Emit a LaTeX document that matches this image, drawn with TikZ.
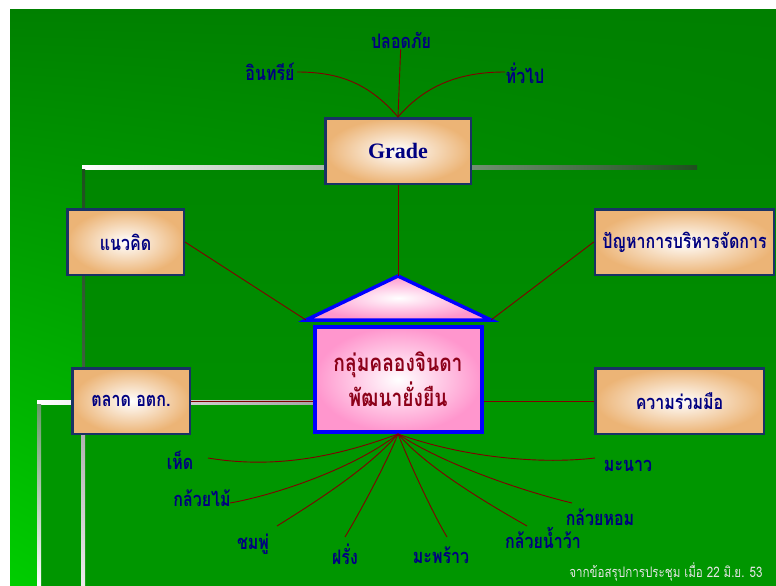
\documentclass[tikz,border=0pt]{standalone}
\usepackage{fontspec}
\setmainfont{Liberation Serif}
\newfontfamily\thai[Script=Thai, FakeStretch=0.8]{Loma}
\usepackage{xcolor}
\usetikzlibrary{shadings}
\definecolor{leafblue}{RGB}{0,0,128}
\definecolor{rimnavy}{RGB}{25,50,100}
\definecolor{boxtan}{RGB}{236,180,118}
\definecolor{hubpink}{RGB}{255,150,205}
\definecolor{linkred}{RGB}{128,0,0}
\definecolor{hubred}{RGB}{140,0,25}
\definecolor{topgreen}{RGB}{0,128,0}
\definecolor{litegreen}{RGB}{0,205,0}
\definecolor{midgreen}{RGB}{0,145,0}
\definecolor{panelgreen}{RGB}{0,134,0}
\definecolor{lowgreen}{RGB}{0,150,0}
\definecolor{rimdark}{RGB}{30,80,30}
\definecolor{notegray}{RGB}{230,230,230}
\tikzset{
	x=1pt, y=-1pt,
	topic/.style={draw=rimnavy, line width=2.5pt, inner color=white, outer color=boxtan,
		minimum height=65.5pt, text=leafblue, font=\thai\bfseries\fontsize{20}{23}\selectfont},
	hubbox/.style={draw=blue, line width=4pt, inner color=white, outer color=hubpink,
		minimum width=167pt, minimum height=105pt, align=center, text=hubred,
		font=\thai\bfseries\fontsize{24}{35}\selectfont},
	roof/.style={draw=blue, line width=3.5pt, inner color=white, outer color=hubpink},
	leaf/.style={text=leafblue, inner sep=1pt, font=\thai\bfseries\fontsize{20}{23}\selectfont},
	note/.style={text=notegray, inner sep=1pt, font=\thai\fontsize{14.5}{17}\selectfont},
	link/.style={draw=linkred, line width=0.9pt}}

\begin{document}
\begin{tikzpicture}
	\useasboundingbox (0,0) rectangle (776,586);
	% backdrop and frames
	\fill[white] (0,0) rectangle (776,586);
	\shade[upper left=topgreen, upper right=topgreen, lower left=litegreen, lower right=midgreen]
		(10,10) rectangle (776,586);
	\shade[top color=panelgreen, bottom color=lowgreen] (82,165) rectangle (776,586);
	\shade[left color=white, right color=rimdark] (82,165) rectangle (697,169);
	\shade[top color=rimdark, bottom color=rimdark!60!gray] (82,169) rectangle (85,400);
	\fill[lowgreen] (37,400) rectangle (776,586);
	\shade[left color=white, right color=gray!70] (37,400) rectangle (313,404);
	\shade[top color=gray!80!green, bottom color=white] (37,404) rectangle (41,586);
	\shade[top color=gray!70, bottom color=white!85!gray] (81,404) rectangle (85,586);

	% boxes
	\node[topic, minimum width=145.5pt, font=\bfseries\fontsize{22}{26}\selectfont] (grade) at (398,151) {Grade};
	\node[topic, minimum width=116.5pt] (concept) at (125.5,242) {แนวคิด};
	\node[topic, minimum width=179pt] (problem) at (684.5,242) {ปัญหาการบริหารจัดการ};
	\node[topic, minimum width=117.5pt] (market) at (131,401) {ตลาด อตก.};
	\node[topic, minimum width=168.5pt] (coop) at (679.5,401) {ความร่วมมือ};

	\coordinate (apex) at (398,276);
	\coordinate (eaveL) at (306,320);
	\coordinate (eaveR) at (491,320);
	\shade[roof] (eaveL) -- (apex) -- (eaveR) -- cycle;
	\node[hubbox] (hub) at (398,379.5) {กลุ่มคลองจินดา\\พัฒนายั่งยืน};

	% leaves
	\node[leaf] (safe) at (401,40) {ปลอดภัย};
	\node[leaf] (organic) at (270,72) {อินทรีย์};
	\node[leaf] (general) at (525,73) {ทั่วไป};
	\node[leaf] (mushroom) at (180,460) {เห็ด};
	\node[leaf] (orchid) at (202,498) {กล้วยไม้};
	\node[leaf] (roseapple) at (253,544) {ชมพู่};
	\node[leaf] (guava) at (345,554) {ฝรั่ง};
	\node[leaf] (coconut) at (441,555) {มะพร้าว};
	\node[leaf] (namwa) at (543,538) {กล้วยน้ำว้า};
	\node[leaf] (hom) at (600,517) {กล้วยหอม};
	\node[leaf] (lime) at (628,466) {มะนาว};
	\node[note] (source) at (666,572) {จากข้อสรุปการประชุม เมื่อ 22 มิ.ย. 53};

	% free ends of the fan
	\coordinate (organic-tip) at (297,72);
	\coordinate (general-tip) at (505,72);
	\coordinate (mushroom-tip) at (208,458);
	\coordinate (orchid-tip) at (230,503);
	\coordinate (roseapple-tip) at (277,526);
	\coordinate (guava-tip) at (345,537);
	\coordinate (coconut-tip) at (447,537);
	\coordinate (namwa-tip) at (527,526);
	\coordinate (hom-tip) at (572,503);
	\coordinate (lime-tip) at (595,458);

	\draw[link]
		(safe) edge (grade.north)
		(grade) edge (apex)
		(concept.east) edge (eaveL)
		(problem.west) edge (eaveR)
		(market) edge (market -| hub.west)
		(coop) edge (coop -| hub.east)
		;
	\draw[link] (organic-tip) .. controls +(40,0) and +(-30,-35) .. (grade.north);
	\draw[link] (general-tip) .. controls +(-40,0) and +(30,-35) .. (grade.north);
	\draw[link] (mushroom-tip) .. controls +(60,10) and +(-70,26) .. (hub.south);
	\draw[link] (orchid-tip) .. controls +(45,-8) and +(-45,35) .. (hub.south);
	\draw[link] (roseapple-tip) .. controls +(35,-22) and +(-30,35) .. (hub.south);
	\draw[link] (guava-tip) .. controls +(15,-25) and +(-12,30) .. (hub.south);
	\draw[link] (coconut-tip) .. controls +(-15,-25) and +(12,30) .. (hub.south);
	\draw[link] (namwa-tip) .. controls +(-35,-20) and +(30,35) .. (hub.south);
	\draw[link] (hom-tip) .. controls +(-50,-12) and +(45,30) .. (hub.south);
	\draw[link] (lime-tip) .. controls +(-50,6) and +(70,25) .. (hub.south);
\end{tikzpicture}
\end{document}
